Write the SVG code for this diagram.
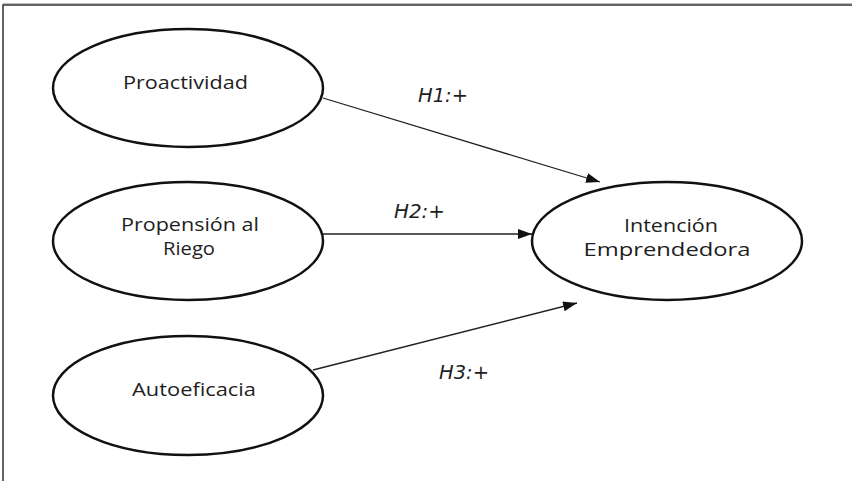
<svg xmlns="http://www.w3.org/2000/svg" width="852" height="481" viewBox="0 0 852 481">
<style>
.node ellipse{fill:#fff;stroke:#111;stroke-width:2.5}
.lbl{font-family:"Open Sans","Liberation Sans",sans-serif;font-size:18.5px;fill:#1e1e1e;text-anchor:middle}
.h{font-family:"DejaVu Sans","Liberation Sans",sans-serif;font-style:italic;font-size:19px;fill:#1e1e1e}
.edge{stroke:#222;stroke-width:1.3;fill:none;marker-end:url(#arr)}
</style>
<defs>
<marker id="arr" markerUnits="userSpaceOnUse" markerWidth="15" markerHeight="11" refX="14" refY="5" orient="auto">
<path d="M0,0 L14,5 L0,10 z" fill="#111"/>
</marker>
</defs>
<rect width="852" height="481" fill="#fff"/>
<path d="M3,481 V5 H852" fill="none" stroke="#333" stroke-width="1.5"/>
<line x1="3" y1="3.5" x2="852" y2="3.5" stroke="#bbb" stroke-width="1"/>
<g id="edges">
<line class="edge" x1="323" y1="98" x2="600" y2="182"/>
<line class="edge" x1="323" y1="234" x2="532" y2="234"/>
<line class="edge" x1="313" y1="370" x2="577" y2="303"/>
<text class="h" x="418" y="102" textLength="50" lengthAdjust="spacingAndGlyphs">H1:+</text>
<text class="h" x="394" y="218" textLength="51" lengthAdjust="spacingAndGlyphs">H2:+</text>
<text class="h" x="439" y="379" textLength="50" lengthAdjust="spacingAndGlyphs">H3:+</text>
</g>
<g id="proactividad" class="node">
<ellipse cx="188" cy="88" rx="135" ry="59"/>
<text class="lbl" x="185.5" y="89" textLength="125" lengthAdjust="spacingAndGlyphs">Proactividad</text>
</g>
<g id="propension" class="node">
<ellipse cx="188" cy="241" rx="135" ry="59"/>
<text class="lbl" x="190" y="231" textLength="138" lengthAdjust="spacingAndGlyphs">Propensión al</text>
<text class="lbl" x="189" y="255" textLength="52" lengthAdjust="spacingAndGlyphs">Riego</text>
</g>
<g id="autoeficacia" class="node">
<ellipse cx="188" cy="395.5" rx="135" ry="59.5"/>
<text class="lbl" x="194" y="396" textLength="124" lengthAdjust="spacingAndGlyphs">Autoeficacia</text>
</g>
<g id="intencion" class="node">
<ellipse cx="667" cy="241" rx="135" ry="59"/>
<text class="lbl" x="671" y="232" textLength="94" lengthAdjust="spacingAndGlyphs">Intención</text>
<text class="lbl" x="667" y="256" textLength="167" lengthAdjust="spacingAndGlyphs">Emprendedora</text>
</g>
</svg>
